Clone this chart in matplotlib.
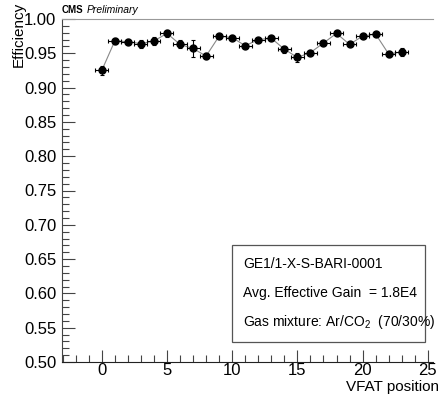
import matplotlib
matplotlib.use("Agg")
import matplotlib.pyplot as plt
from matplotlib.ticker import MultipleLocator, FormatStrFormatter
from matplotlib.patches import Rectangle

plt.rcParams['font.family'] = ['Liberation Sans', 'DejaVu Sans']

vfat = list(range(24))
eff = [0.925, 0.968, 0.967, 0.964, 0.968, 0.979, 0.963, 0.957, 0.946, 0.975,
       0.973, 0.961, 0.970, 0.972, 0.956, 0.944, 0.951, 0.965, 0.979, 0.963,
       0.975, 0.978, 0.949, 0.952]
eff_err = [0.006, 0.004, 0.004, 0.006, 0.006, 0.005, 0.006, 0.013, 0.004, 0.003,
           0.003, 0.003, 0.003, 0.003, 0.005, 0.007, 0.004, 0.003, 0.003, 0.003,
           0.003, 0.003, 0.004, 0.006]
x_err = [0.5] * 24

fig = plt.figure(figsize=(4.39, 3.95), dpi=100)
ax = fig.add_axes([62/439, 1 - 362/395, (433-62)/439, (362-19)/395])

ax.plot(vfat, eff, color='#888888', lw=0.8, zorder=1)
ax.errorbar(vfat, eff, yerr=eff_err, xerr=x_err, fmt='o', color='black',
            ms=5, elinewidth=0.8, capsize=1.5, capthick=0.8, zorder=2)

ax.set_xlim(-3.05, 25.4)
ax.set_ylim(0.50, 1.00)
ax.xaxis.set_major_locator(MultipleLocator(5))
ax.xaxis.set_minor_locator(MultipleLocator(1))
ax.yaxis.set_major_locator(MultipleLocator(0.05))
ax.yaxis.set_minor_locator(MultipleLocator(0.01))
ax.yaxis.set_major_formatter(FormatStrFormatter('%.2f'))
ax.tick_params(which='both', direction='in', top=False, right=False,
               labelsize=12, color='#444444')
ax.tick_params(which='major', length=9, width=0.8)
ax.tick_params(which='minor', length=5, width=0.8)
ax.tick_params(axis='x', which='major', pad=1)
ax.tick_params(axis='y', which='major', pad=4)
ax.spines['right'].set_visible(False)
ax.spines['top'].set_color('#999999')
ax.spines['top'].set_linewidth(0.8)
ax.spines['left'].set_color('#444444')
ax.spines['bottom'].set_color('#222222')

fig.text(12/439, 1 - 2/395, 'Efficiency', rotation=90, ha='left', va='top', fontsize=11)
fig.text(439/439, 1 - 387/395, 'VFAT position', ha='right', va='center', fontsize=11)
fig.text(62/439, 1 - 10/395, 'CMS', fontsize=7, fontweight='bold', ha='left', va='center')
fig.text(87/439, 1 - 10/395, 'Preliminary', fontsize=7.5, style='italic', ha='left', va='center')

box = Rectangle((232/439, 1 - 342/395), (425-232)/439, (342-245)/395,
                transform=fig.transFigure, fill=True, facecolor='white',
                edgecolor='#555555', lw=0.9, zorder=5)
fig.add_artist(box)
lines = ['GE1/1-X-S-BARI-0001', 'Avg. Effective Gain  = 1.8E4',
         r'Gas mixture: Ar/CO$_{\mathregular{2}}$  (70/30%)']
for i, t in enumerate(lines):
    fig.text(243/439, 1 - (264 + 29*i)/395, t, fontsize=10, ha='left', va='center', zorder=6)

fig.savefig('out.png', dpi=100)
